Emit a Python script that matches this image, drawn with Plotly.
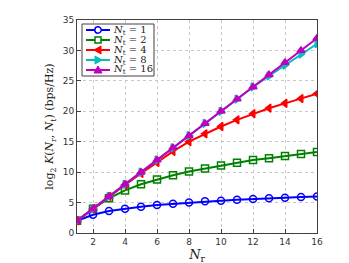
import plotly.graph_objects as go

nr = list(range(1, 17))
k_nt1 = [2, 3, 3.6, 4, 4.3, 4.6, 4.8, 5.0, 5.2, 5.3, 5.45, 5.6, 5.7, 5.8, 5.9, 6.0]
k_nt2 = [2, 4, 5.7, 7.0, 8.0, 8.8, 9.5, 10.1, 10.6, 11.1, 11.55, 12.0, 12.3, 12.65, 13.0, 13.3]
k_nt4 = [2, 4, 6, 7.9, 9.8, 11.6, 13.4, 15.0, 16.3, 17.5, 18.6, 19.6, 20.5, 21.3, 22.1, 22.9]
k_nt8 = [2, 4, 6, 8, 10, 12, 14, 16, 18, 20, 22, 24, 25.8, 27.6, 29.4, 31.1]
k_nt16 = [2, 4, 6, 8, 10, 12, 14, 16, 18, 20, 22, 24, 26, 28, 30, 32]

series = [
    ("<i>N</i><sub>t</sub> = 1", k_nt1, "#0000ff", "circle-open"),
    ("<i>N</i><sub>t</sub> = 2", k_nt2, "#008000", "square-open"),
    ("<i>N</i><sub>t</sub> = 4", k_nt4, "#ff0000", "triangle-left"),
    ("<i>N</i><sub>t</sub> = 8", k_nt8, "#00bfbf", "triangle-right"),
    ("<i>N</i><sub>t</sub> = 16", k_nt16, "#bf00bf", "triangle-up"),
]

# figure / plot-area geometry (window pixels; page body has an 8px margin)
W, H = 349, 263
PL, PR, PT, PB = 77, 317, 20, 233
BODY = 8

fig = go.Figure()
for name, ys, col, sym in series:
    fig.add_trace(go.Scatter(
        x=nr, y=ys, name=name, mode="lines+markers", showlegend=False,
        line=dict(color=col, width=2),
        marker=dict(symbol=sym, size=7, color=col, line=dict(color=col, width=1.5)),
    ))

def px(x):
    return (x - PL) / (PR - PL)

def py(y):
    return (PB - y) / (PB - PT)

# legend drawn as layout decoration
shapes = [dict(type="rect", xref="paper", yref="paper", layer="above",
               x0=px(82), x1=px(154), y0=py(24), y1=py(76),
               line=dict(color="#404040", width=1), fillcolor="white")]
annotations = []
for i, (name, ys, col, sym) in enumerate(series):
    yc = 30 + 10 * i
    shapes.append(dict(type="line", xref="paper", yref="paper", layer="above",
                       x0=px(86), x1=px(110), y0=py(yc), y1=py(yc),
                       line=dict(color=col, width=2)))
    cx, r = 98, 3.2
    if sym == "circle-open":
        shapes.append(dict(type="circle", xref="paper", yref="paper", layer="above",
                           x0=px(cx - r), x1=px(cx + r), y0=py(yc + r), y1=py(yc - r),
                           line=dict(color=col, width=1.5), fillcolor="white"))
    elif sym == "square-open":
        shapes.append(dict(type="rect", xref="paper", yref="paper", layer="above",
                           x0=px(cx - 3), x1=px(cx + 3), y0=py(yc + 3), y1=py(yc - 3),
                           line=dict(color=col, width=1.5), fillcolor="white"))
    else:
        if sym == "triangle-left":
            pts = [(cx - 4, yc), (cx + 3, yc - 4), (cx + 3, yc + 4)]
        elif sym == "triangle-right":
            pts = [(cx + 4, yc), (cx - 3, yc - 4), (cx - 3, yc + 4)]
        else:
            pts = [(cx, yc - 4), (cx - 4, yc + 3), (cx + 4, yc + 3)]
        path = "M " + " L ".join(f"{px(a):.5f},{py(b):.5f}" for a, b in pts) + " Z"
        shapes.append(dict(type="path", xref="paper", yref="paper", layer="above",
                           path=path, line=dict(color=col, width=1), fillcolor=col))
    annotations.append(dict(xref="paper", yref="paper", x=px(112), y=py(yc),
                            xanchor="left", yanchor="middle", showarrow=False,
                            borderpad=0,
                            text=name, font=dict(family="DejaVu Serif", size=10, color="#222")))

axis_common = dict(
    showgrid=True, gridcolor="#c8c8c8", griddash="dot", gridwidth=1,
    showline=True, linecolor="#404040", linewidth=1, mirror=True,
    ticks="inside", ticklen=4, tickcolor="#404040",
    tickfont=dict(family="DejaVu Sans", size=9, color="#333"),
    zeroline=False, automargin=False,
)

fig.update_xaxes(range=[1, 16], tickvals=[2, 4, 6, 8, 10, 12, 14, 16],
                 title=dict(text="<i>N</i><sub>r</sub>", font=dict(family="DejaVu Serif", size=13, color="#222"), standoff=2),
                 **axis_common)
fig.update_yaxes(range=[0, 35], dtick=5,
                 title=dict(text="log<sub>2</sub> <i>K</i>(<i>N</i><sub>r</sub>, <i>N</i><sub>t</sub>) (bps/Hz)",
                            font=dict(family="DejaVu Serif", size=11, color="#222"), standoff=6),
                 **axis_common)

fig.update_layout(
    width=W, height=H,
    margin=dict(l=PL - BODY, r=W - PR + BODY, t=PT - BODY, b=H - PB + BODY),
    paper_bgcolor="white", plot_bgcolor="white",
    shapes=shapes, annotations=annotations,
    showlegend=False,
)

fig.write_html("out.html")
